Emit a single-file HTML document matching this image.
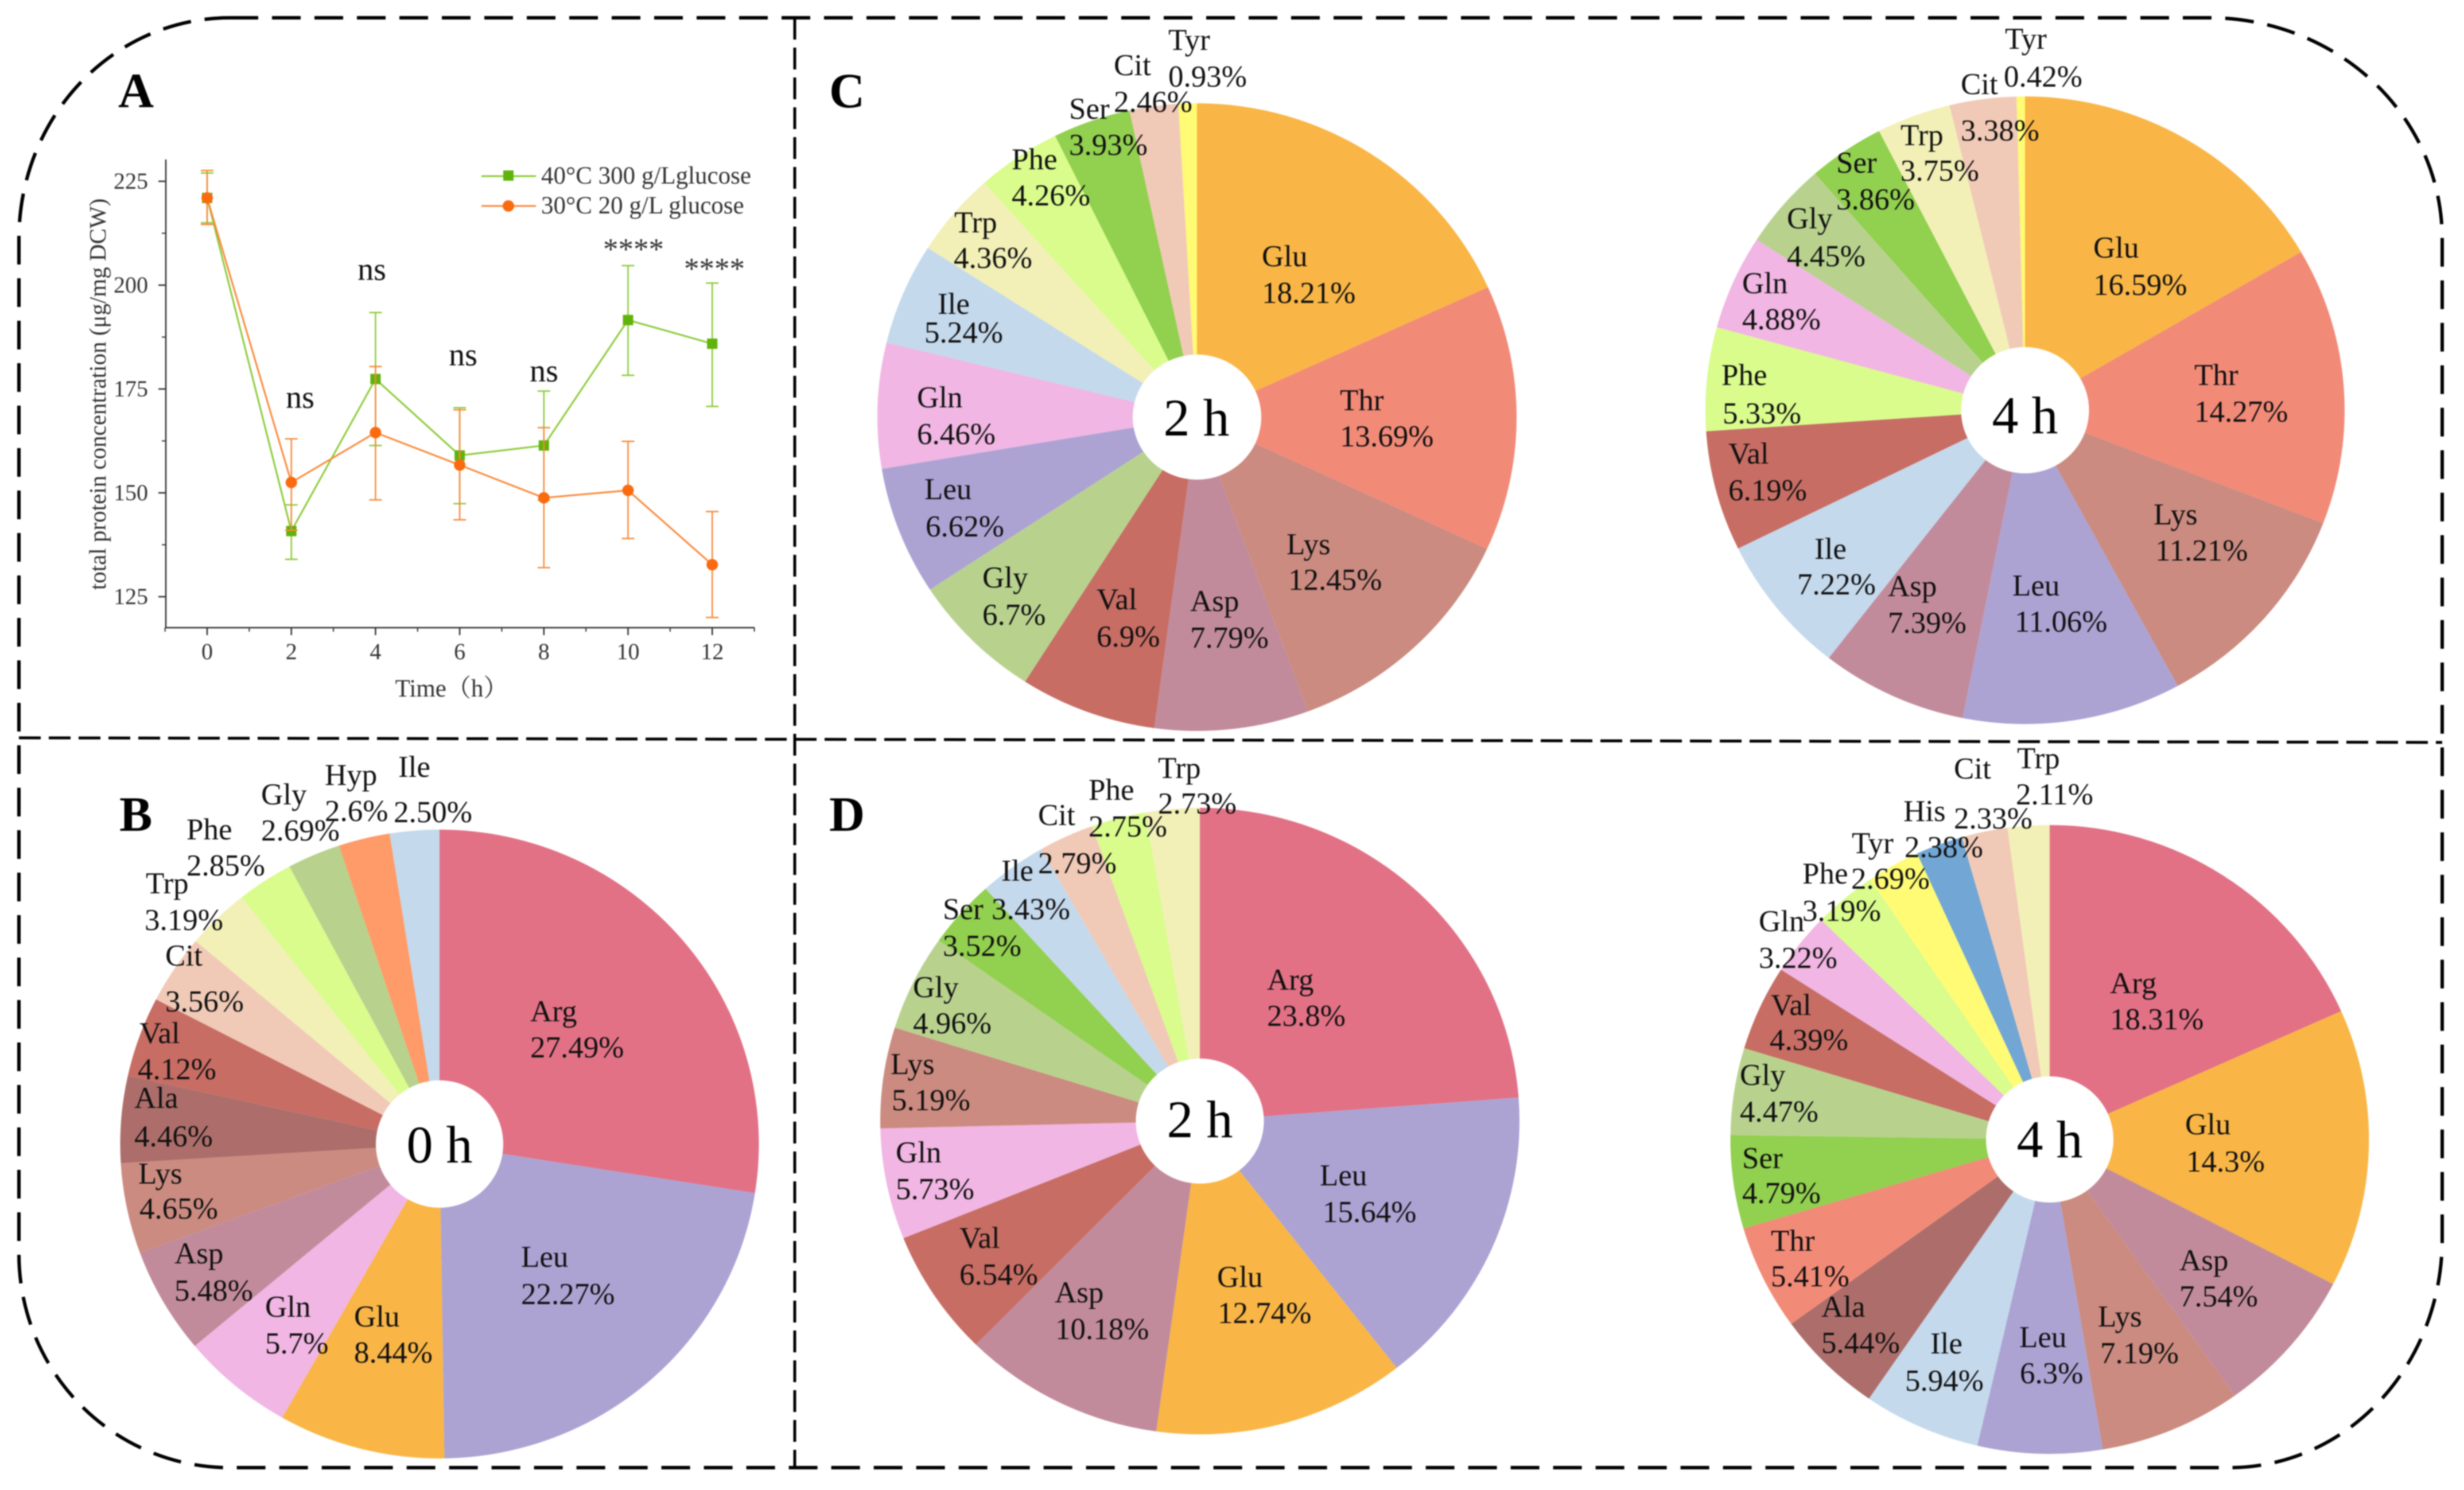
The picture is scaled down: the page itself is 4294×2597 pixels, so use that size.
<!DOCTYPE html>
<html lang="en">
<head>
<meta charset="utf-8">
<title>Amino acid composition and total protein concentration</title>
<style>
  html, body { margin: 0; padding: 0; background: #fff; }
  svg { display: block; filter: blur(1px); }
  text { font-family: "Liberation Serif", "Noto Serif CJK SC", serif; fill: #111; }
  .pl text { font-size: 53px; }
  .pl text.center { font-size: 92px; text-anchor: middle; fill: #000; }
  .letter { font-size: 86px; font-weight: bold; fill: #000; }
  .tick { font-size: 40px; fill: #333; }
  .ytitle { font-size: 41px; fill: #333; }
  .xtitle { font-size: 43px; fill: #333; }
  .lg { font-size: 43px; fill: #333; }
  .ns { font-size: 56px; text-anchor: middle; fill: #111; }
  .st { font-size: 53px; text-anchor: middle; fill: #333; }
</style>
</head>
<body>
<svg xmlns="http://www.w3.org/2000/svg" width="4294" height="2597" viewBox="0 0 4294 2597">
  <rect width="4294" height="2597" fill="#fff"/>

  <g id="pies"></g>
  <g id="chartA"></g>

  <path fill="none" stroke="#000" stroke-width="6" stroke-dasharray="50 24"
        d="M400 31 H3850 A406 385 0 0 1 4256 416 V2160 A370 398 0 0 1 3886 2558 H400 A367 372 0 0 1 33 2186 V416 A367 385 0 0 1 400 31 Z"/>
  <line x1="1385" y1="31" x2="1385" y2="2558" stroke="#000" stroke-width="5" stroke-dasharray="38 14"/>
  <line x1="33" y1="1286" x2="4256" y2="1294" stroke="#000" stroke-width="5" stroke-dasharray="38 14"/>

  <text class="letter" x="206" y="187">A</text>
  <text class="letter" x="208" y="1448">B</text>
  <text class="letter" x="1445" y="187">C</text>
  <text class="letter" x="1445" y="1448">D</text>

  <!-- Panel A static text -->
  <text class="ytitle" transform="translate(184 687) rotate(-90)" text-anchor="middle">total protein concentration (μg/mg DCW)</text>
  <text class="xtitle" x="787" y="1214" text-anchor="middle">Time（h）</text>
  <g>
    <line x1="839" y1="307" x2="934" y2="307" stroke="#8CCB3A" stroke-width="3"/>
    <rect x="877" y="297" width="18" height="18" fill="#5FB30A"/>
    <text class="lg" x="943" y="320">40°C 300 g/Lglucose</text>
    <line x1="839" y1="359" x2="934" y2="359" stroke="#F98A3C" stroke-width="3"/>
    <circle cx="886" cy="359" r="10" fill="#FA6A0E"/>
    <text class="lg" x="943" y="372">30°C 20 g/L glucose</text>
  </g>
  <text class="ns" x="523" y="711">ns</text>
  <text class="ns" x="648" y="488">ns</text>
  <text class="ns" x="807" y="637">ns</text>
  <text class="ns" x="948" y="665">ns</text>
  <text class="st" x="1104" y="452">****</text>
  <text class="st" x="1245" y="486">****</text>

  <!-- Panel B labels -->
  <g class="pl">
    <text class="center" x="766" y="2026">0 h</text>
    <text><tspan x="924" y="1780">Arg</tspan><tspan x="924" y="1843">27.49%</tspan></text>
    <text><tspan x="908" y="2208">Leu</tspan><tspan x="908" y="2273">22.27%</tspan></text>
    <text><tspan x="617" y="2312">Glu</tspan><tspan x="617" y="2375">8.44%</tspan></text>
    <text><tspan x="462" y="2295">Gln</tspan><tspan x="462" y="2359">5.7%</tspan></text>
    <text><tspan x="304" y="2202">Asp</tspan><tspan x="304" y="2267">5.48%</tspan></text>
    <text><tspan x="241" y="2063">Lys</tspan><tspan x="243" y="2124">4.65%</tspan></text>
    <text><tspan x="234" y="1931">Ala</tspan><tspan x="234" y="1998">4.46%</tspan></text>
    <text><tspan x="243" y="1818">Val</tspan><tspan x="240" y="1881">4.12%</tspan></text>
    <text><tspan x="288" y="1683">Cit</tspan><tspan x="288" y="1763">3.56%</tspan></text>
    <text><tspan x="254" y="1557">Trp</tspan><tspan x="252" y="1621">3.19%</tspan></text>
    <text><tspan x="325" y="1463">Phe</tspan><tspan x="325" y="1526">2.85%</tspan></text>
    <text><tspan x="455" y="1402">Gly</tspan><tspan x="455" y="1465">2.69%</tspan></text>
    <text><tspan x="566" y="1368">Hyp</tspan><tspan x="566" y="1431">2.6%</tspan></text>
    <text><tspan x="694" y="1354">Ile</tspan><tspan x="686" y="1433">2.50%</tspan></text>
  </g>

  <!-- Panel C 2 h labels -->
  <g class="pl">
    <text class="center" x="2085" y="759">2 h</text>
    <text><tspan x="2199" y="464">Glu</tspan><tspan x="2199" y="528">18.21%</tspan></text>
    <text><tspan x="2335" y="715">Thr</tspan><tspan x="2335" y="778">13.69%</tspan></text>
    <text><tspan x="2242" y="966">Lys</tspan><tspan x="2245" y="1028">12.45%</tspan></text>
    <text><tspan x="2074" y="1065">Asp</tspan><tspan x="2074" y="1129">7.79%</tspan></text>
    <text><tspan x="1911" y="1062">Val</tspan><tspan x="1911" y="1127">6.9%</tspan></text>
    <text><tspan x="1712" y="1024">Gly</tspan><tspan x="1712" y="1089">6.7%</tspan></text>
    <text><tspan x="1611" y="870">Leu</tspan><tspan x="1613" y="935">6.62%</tspan></text>
    <text><tspan x="1598" y="710">Gln</tspan><tspan x="1598" y="774">6.46%</tspan></text>
    <text><tspan x="1634" y="547">Ile</tspan><tspan x="1611" y="597">5.24%</tspan></text>
    <text><tspan x="1663" y="405">Trp</tspan><tspan x="1662" y="467">4.36%</tspan></text>
    <text><tspan x="1763" y="295">Phe</tspan><tspan x="1763" y="358">4.26%</tspan></text>
    <text><tspan x="1863" y="207">Ser</tspan><tspan x="1863" y="270">3.93%</tspan></text>
    <text><tspan x="1941" y="131">Cit</tspan><tspan x="1941" y="195">2.46%</tspan></text>
    <text><tspan x="2036" y="87">Tyr</tspan><tspan x="2036" y="151">0.93%</tspan></text>
  </g>

  <!-- Panel C 4 h labels -->
  <g class="pl">
    <text class="center" x="3529" y="755">4 h</text>
    <text><tspan x="3648" y="449">Glu</tspan><tspan x="3648" y="514">16.59%</tspan></text>
    <text><tspan x="3824" y="671">Thr</tspan><tspan x="3824" y="735">14.27%</tspan></text>
    <text><tspan x="3753" y="914">Lys</tspan><tspan x="3756" y="977">11.21%</tspan></text>
    <text><tspan x="3507" y="1038">Leu</tspan><tspan x="3511" y="1101">11.06%</tspan></text>
    <text><tspan x="3290" y="1039">Asp</tspan><tspan x="3290" y="1103">7.39%</tspan></text>
    <text><tspan x="3162" y="974">Ile</tspan><tspan x="3132" y="1036">7.22%</tspan></text>
    <text><tspan x="3012" y="808">Val</tspan><tspan x="3012" y="872">6.19%</tspan></text>
    <text><tspan x="3000" y="671">Phe</tspan><tspan x="3002" y="738">5.33%</tspan></text>
    <text><tspan x="3036" y="511">Gln</tspan><tspan x="3036" y="574">4.88%</tspan></text>
    <text><tspan x="3114" y="398">Gly</tspan><tspan x="3114" y="464">4.45%</tspan></text>
    <text><tspan x="3200" y="301">Ser</tspan><tspan x="3200" y="365">3.86%</tspan></text>
    <text><tspan x="3312" y="253">Trp</tspan><tspan x="3312" y="315">3.75%</tspan></text>
    <text><tspan x="3417" y="164">Cit</tspan><tspan x="3417" y="245">3.38%</tspan></text>
    <text><tspan x="3494" y="85">Tyr</tspan><tspan x="3492" y="151">0.42%</tspan></text>
  </g>

  <!-- Panel D 2 h labels -->
  <g class="pl">
    <text class="center" x="2091" y="1982">2 h</text>
    <text><tspan x="2208" y="1725">Arg</tspan><tspan x="2208" y="1788">23.8%</tspan></text>
    <text><tspan x="2300" y="2066">Leu</tspan><tspan x="2305" y="2130">15.64%</tspan></text>
    <text><tspan x="2121" y="2243">Glu</tspan><tspan x="2122" y="2306">12.74%</tspan></text>
    <text><tspan x="1838" y="2270">Asp</tspan><tspan x="1839" y="2334">10.18%</tspan></text>
    <text><tspan x="1672" y="2175">Val</tspan><tspan x="1672" y="2239">6.54%</tspan></text>
    <text><tspan x="1561" y="2026">Gln</tspan><tspan x="1561" y="2090">5.73%</tspan></text>
    <text><tspan x="1552" y="1872">Lys</tspan><tspan x="1554" y="1935">5.19%</tspan></text>
    <text><tspan x="1591" y="1738">Gly</tspan><tspan x="1591" y="1801">4.96%</tspan></text>
    <text><tspan x="1643" y="1602">Ser</tspan><tspan x="1643" y="1666">3.52%</tspan></text>
    <text><tspan x="1745" y="1535">Ile</tspan><tspan x="1728" y="1602">3.43%</tspan></text>
    <text><tspan x="1809" y="1438">Cit</tspan><tspan x="1809" y="1522">2.79%</tspan></text>
    <text><tspan x="1897" y="1394">Phe</tspan><tspan x="1897" y="1458">2.75%</tspan></text>
    <text><tspan x="2018" y="1356">Trp</tspan><tspan x="2018" y="1418">2.73%</tspan></text>
  </g>

  <!-- Panel D 4 h labels -->
  <g class="pl">
    <text class="center" x="3572" y="2017">4 h</text>
    <text><tspan x="3677" y="1731">Arg</tspan><tspan x="3677" y="1794">18.31%</tspan></text>
    <text><tspan x="3808" y="1977">Glu</tspan><tspan x="3810" y="2042">14.3%</tspan></text>
    <text><tspan x="3798" y="2214">Asp</tspan><tspan x="3798" y="2277">7.54%</tspan></text>
    <text><tspan x="3656" y="2312">Lys</tspan><tspan x="3660" y="2376">7.19%</tspan></text>
    <text><tspan x="3519" y="2348">Leu</tspan><tspan x="3520" y="2411">6.3%</tspan></text>
    <text><tspan x="3364" y="2359">Ile</tspan><tspan x="3320" y="2424">5.94%</tspan></text>
    <text><tspan x="3174" y="2295">Ala</tspan><tspan x="3174" y="2358">5.44%</tspan></text>
    <text><tspan x="3086" y="2180">Thr</tspan><tspan x="3086" y="2242">5.41%</tspan></text>
    <text><tspan x="3036" y="2036">Ser</tspan><tspan x="3036" y="2097">4.79%</tspan></text>
    <text><tspan x="3032" y="1891">Gly</tspan><tspan x="3032" y="1955">4.47%</tspan></text>
    <text><tspan x="3086" y="1769">Val</tspan><tspan x="3084" y="1830">4.39%</tspan></text>
    <text><tspan x="3065" y="1623">Gln</tspan><tspan x="3065" y="1687">3.22%</tspan></text>
    <text><tspan x="3141" y="1540">Phe</tspan><tspan x="3141" y="1605">3.19%</tspan></text>
    <text><tspan x="3227" y="1487">Tyr</tspan><tspan x="3226" y="1549">2.69%</tspan></text>
    <text><tspan x="3317" y="1431">His</tspan><tspan x="3319" y="1494">2.38%</tspan></text>
    <text><tspan x="3405" y="1357">Cit</tspan><tspan x="3405" y="1444">2.33%</tspan></text>
    <text><tspan x="3515" y="1339">Trp</tspan><tspan x="3513" y="1402">2.11%</tspan></text>
  </g>
</svg>

<script>
// Panel A data
const timeHours = [0, 2, 4, 6, 8, 10, 12];
const greenMean = [221, 140.8, 177.4, 159, 161.4, 191.6, 185.9];
const greenUpper = [227, 147.1, 193.4, 170.5, 174.5, 204.7, 200.5];
const greenLower = [215, 134, 161.4, 147.4, 148.2, 178.3, 170.8];
const orangeMean = [221, 152.5, 164.5, 156.7, 148.8, 150.6, 132.7];
const orangeUpper = [227.6, 163, 180.4, 170, 165.7, 162.4, 145.5];
const orangeLower = [214.6, 141, 148.3, 143.5, 132, 139, 120];
const xTickLabels = [0, 2, 4, 6, 8, 10, 12];
const xMinorTicks = [-1, 1, 3, 5, 7, 9, 11, 13];
const yTickLabels = [125, 150, 175, 200, 225];
const yMinorTicks = [137.5, 162.5, 187.5, 212.5];

// Pie data (percent, clockwise from 12 o'clock)
const pieBCategories = ['Arg','Leu','Glu','Gln','Asp','Lys','Ala','Val','Cit','Trp','Phe','Gly','Hyp','Ile'];
const pieBValues = [27.49,22.27,8.44,5.7,5.48,4.65,4.46,4.12,3.56,3.19,2.85,2.69,2.6,2.5];
const pieC2Categories = ['Glu','Thr','Lys','Asp','Val','Gly','Leu','Gln','Ile','Trp','Phe','Ser','Cit','Tyr'];
const pieC2Values = [18.21,13.69,12.45,7.79,6.9,6.7,6.62,6.46,5.24,4.36,4.26,3.93,2.46,0.93];
const pieC4Categories = ['Glu','Thr','Lys','Leu','Asp','Ile','Val','Phe','Gln','Gly','Ser','Trp','Cit','Tyr'];
const pieC4Values = [16.59,14.27,11.21,11.06,7.39,7.22,6.19,5.33,4.88,4.45,3.86,3.75,3.38,0.42];
const pieD2Categories = ['Arg','Leu','Glu','Asp','Val','Gln','Lys','Gly','Ser','Ile','Cit','Phe','Trp'];
const pieD2Values = [23.8,15.64,12.74,10.18,6.54,5.73,5.19,4.96,3.52,3.43,2.79,2.75,2.73];
const pieD4Categories = ['Arg','Glu','Asp','Lys','Leu','Ile','Ala','Thr','Ser','Gly','Val','Gln','Phe','Tyr','His','Cit','Trp'];
const pieD4Values = [18.31,14.3,7.54,7.19,6.3,5.94,5.44,5.41,4.79,4.47,4.39,3.22,3.19,2.69,2.38,2.33,2.11];

const aminoColors = {
  Arg:'#E27186', Leu:'#ACA3D3', Glu:'#F9B646', Gln:'#F1B6E3', Asp:'#C28B9C', Lys:'#CB8B80',
  Ala:'#AD6E6B', Val:'#C76D64', Cit:'#F1CAB7', Trp:'#F2F0B7', Phe:'#D9FC8C', Gly:'#B8D28E',
  Hyp:'#FF9B68', Ile:'#C4D9EC', Thr:'#F28A78', Ser:'#92D04F', Tyr:'#FFFB74', His:'#72A6D5'
};

const NS = 'http://www.w3.org/2000/svg';
function svgEl(tag, attrs, parent) {
  const el = document.createElementNS(NS, tag);
  for (const k in attrs) el.setAttribute(k, attrs[k]);
  parent.appendChild(el);
  return el;
}

function drawPie(pieName, categories, values, cx, cy, rx, ry, holeRx, holeRy) {
  const root = document.getElementById('pies');
  const g = svgEl('g', {}, root);
  
  
  const total = values.reduce((a, b) => a + b, 0);
  let acc = 0;
  values.forEach((v, i) => {
    const a0 = acc / total * 2 * Math.PI;
    acc += v;
    const a1 = acc / total * 2 * Math.PI;
    const x0 = cx + rx * Math.sin(a0), y0 = cy - ry * Math.cos(a0);
    const x1 = cx + rx * Math.sin(a1), y1 = cy - ry * Math.cos(a1);
    const large = (a1 - a0) > Math.PI ? 1 : 0;
    const p = svgEl('path', {
      d: `M${cx} ${cy} L${x0.toFixed(2)} ${y0.toFixed(2)} A${rx} ${ry} 0 ${large} 1 ${x1.toFixed(2)} ${y1.toFixed(2)} Z`,
      fill: aminoColors[categories[i]]
    }, g);
    
    
  });
  const hole = svgEl('ellipse', { cx: cx, cy: cy, rx: holeRx, ry: holeRy, fill: '#fff' }, g);
  
  
}

drawPie('pie-b-0h', pieBCategories, pieBValues, 766, 1994, 556.5, 548, 111, 111);
drawPie('pie-c-2h', pieC2Categories, pieC2Values, 2086, 727, 557, 547, 112, 109);
drawPie('pie-c-4h', pieC4Categories, pieC4Values, 3529, 715, 557, 547, 111.5, 110);
drawPie('pie-d-2h', pieD2Categories, pieD2Values, 2091, 1954, 557, 546, 111.6, 109);
drawPie('pie-d-4h', pieD4Categories, pieD4Values, 3572, 1986, 556.4, 548, 111, 110);

// Panel A axes
const xScale = t => 361 + t * 73.35;
const yScale = v => 316 + (225 - v) * 7.24;
const chart = document.getElementById('chartA');
const axisColor = '#333';

const yAxisLine = svgEl('line', { x1: 289, y1: 278, x2: 289, y2: 1094, stroke: axisColor, 'stroke-width': 2.5 }, chart);


const xAxisLine = svgEl('line', { x1: 288, y1: 1094, x2: 1315, y2: 1094, stroke: axisColor, 'stroke-width': 2.5 }, chart);



xTickLabels.forEach(t => {
  const tick = svgEl('line', { x1: xScale(t), y1: 1094, x2: xScale(t), y2: 1107, stroke: axisColor, 'stroke-width': 2.5 }, chart);
  
  
  const label = svgEl('text', { x: xScale(t), y: 1149, 'text-anchor': 'middle', class: 'tick' }, chart);
  
  
  label.textContent = t;
});
xMinorTicks.forEach(t => {
  const tick = svgEl('line', { x1: xScale(t), y1: 1094, x2: xScale(t), y2: 1101, stroke: axisColor, 'stroke-width': 2 }, chart);
  
  
});
yTickLabels.forEach(v => {
  const tick = svgEl('line', { x1: 276, y1: yScale(v), x2: 289, y2: yScale(v), stroke: axisColor, 'stroke-width': 2.5 }, chart);
  
  
  const label = svgEl('text', { x: 258, y: yScale(v) + 13, 'text-anchor': 'end', class: 'tick' }, chart);
  
  
  label.textContent = v;
});
yMinorTicks.forEach(v => {
  const tick = svgEl('line', { x1: 282, y1: yScale(v), x2: 289, y2: yScale(v), stroke: axisColor, 'stroke-width': 2 }, chart);
  
  
});

function drawSeries(seriesName, mean, upper, lower, lineColor, markColor, square) {
  const g = svgEl('g', {}, chart);
  
  
  timeHours.forEach((t, i) => {
    const x = xScale(t), yU = yScale(upper[i]), yL = yScale(lower[i]);
    const err = svgEl('path', {
      d: `M${x} ${yU} V${yL} M${x - 11} ${yU} H${x + 11} M${x - 11} ${yL} H${x + 11}`,
      fill: 'none', stroke: lineColor, 'stroke-width': 2.5
    }, g);
    
    
  });
  const pts = timeHours.map((t, i) => xScale(t).toFixed(1) + ',' + yScale(mean[i]).toFixed(1)).join(' ');
  const line = svgEl('polyline', { points: pts, fill: 'none', stroke: lineColor, 'stroke-width': 3 }, g);
  
  
  timeHours.forEach((t, i) => {
    const x = xScale(t), y = yScale(mean[i]);
    const m = square
      ? svgEl('rect', { x: x - 9, y: y - 9, width: 18, height: 18, fill: markColor }, g)
      : svgEl('circle', { cx: x, cy: y, r: 10, fill: markColor }, g);
    
    
  });
}
drawSeries('series-40c-300gl', greenMean, greenUpper, greenLower, '#8CCB3A', '#5FB30A', true);
drawSeries('series-30c-20gl', orangeMean, orangeUpper, orangeLower, '#F98A3C', '#FA6A0E', false);
</script>
</body>
</html>
